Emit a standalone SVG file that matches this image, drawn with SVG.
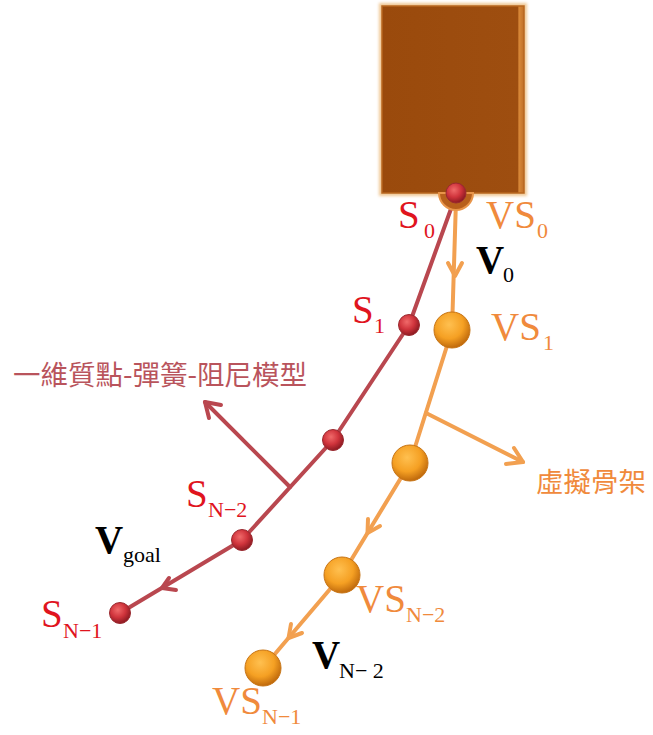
<svg xmlns="http://www.w3.org/2000/svg" width="653" height="735" viewBox="0 0 653 735">
<defs>
<radialGradient id="gRed" cx="0.4" cy="0.35" r="0.65">
<stop offset="0" stop-color="#F06A6A"/>
<stop offset="0.55" stop-color="#D0343C"/>
<stop offset="1" stop-color="#8E1A22"/>
</radialGradient>
<radialGradient id="gOr" cx="0.42" cy="0.35" r="0.65">
<stop offset="0" stop-color="#FFC050"/>
<stop offset="0.6" stop-color="#F5A023"/>
<stop offset="1" stop-color="#C06A0C"/>
</radialGradient>
<linearGradient id="gBox" x1="0" y1="0" x2="1" y2="0">
<stop offset="0" stop-color="#9A4A0C"/>
<stop offset="0.955" stop-color="#9E4E10"/>
<stop offset="0.965" stop-color="#D88838"/>
<stop offset="1" stop-color="#C06E26"/>
</linearGradient>
<filter id="glow" x="-10%" y="-10%" width="120%" height="120%">
<feGaussianBlur stdDeviation="1.5"/>
</filter>
</defs>
<style>
.rl{fill:none;stroke:#B9474F;stroke-width:4;stroke-linecap:round;stroke-linejoin:round}
.ol{fill:none;stroke:#F2A050;stroke-width:4;stroke-linecap:round;stroke-linejoin:round}
.rb{fill:url(#gRed);stroke:#9A2A30;stroke-width:1}
.ob{fill:url(#gOr);stroke:#C77415;stroke-width:1}
.t{font-family:"Liberation Serif","Times New Roman",serif}
.red{fill:#E0141E}
.org{fill:#F08A3C}
.blk{fill:#000}
.big{font-size:39px}
.sub{font-size:22px}
.cjk{font-family:"Noto Sans CJK TC","Noto Sans CJK SC",sans-serif;font-size:27.5px}
</style>
<g id="block">
<rect x="379" y="3" width="148" height="193" fill="#F0C894" filter="url(#glow)"/>
<rect x="382" y="6" width="142" height="187" fill="url(#gBox)" stroke="#B8671F" stroke-width="1.5"/>
</g>
<g id="connectors">
<path class="rl" d="M456,195 L409,325 L333,440 L242,540 L120,613"/>
<path class="rl" d="M290,487 L205,402"/>
<path class="rl" d="M209,418 L205,402 L221,405"/>
<path class="rl" d="M176,590 L162,588 L169,578"/>
<path class="ol" d="M456,200 L452,330 L410,463 L342,575 L263,668"/>
<path class="ol" d="M426,413 L523,462"/>
<path class="ol" d="M514,448 L523,462 L506,464"/>
<path class="ol" d="M448,263 L455,276 L462,263"/>
<path class="ol" d="M380,526 L367.5,533 L368,519"/>
<path class="ol" d="M302,633 L288.5,638 L291,624"/>
</g>
<g id="VS0">
<path d="M439,193 A17,17 0 0 0 473,193 Z" fill="#B8601C" stroke="#E8954A" stroke-width="2"/>
</g>
<g id="S0"><circle class="rb" cx="456" cy="193" r="10"/></g>
<g id="S1"><circle class="rb" cx="409" cy="325" r="10.5"/></g>
<g id="S2"><circle class="rb" cx="333" cy="440" r="10.5"/></g>
<g id="SN2"><circle class="rb" cx="242" cy="540" r="10.5"/></g>
<g id="SN1"><circle class="rb" cx="120" cy="613" r="10.5"/></g>
<g id="VS1"><circle class="ob" cx="452" cy="330" r="18"/></g>
<g id="VS2"><circle class="ob" cx="410" cy="463" r="18"/></g>
<g id="VSN2"><circle class="ob" cx="342" cy="575" r="18"/></g>
<g id="VSN1"><circle class="ob" cx="263" cy="668" r="18"/></g>
<g id="labels" class="t">
<text class="red big" x="398" y="228">S</text><text class="red sub" x="424" y="238">0</text>
<text class="org big" x="486" y="228">VS</text><text class="org sub" x="537" y="238">0</text>
<text class="blk big" font-weight="bold" x="476" y="273">V</text><text class="blk sub" font-size="18" x="503" y="282">0</text>
<text class="red big" x="352" y="323">S</text><text class="red sub" x="374" y="333">1</text>
<text class="org big" x="491" y="340">VS</text><text class="org sub" x="543" y="350">1</text>
<text class="red big" x="186" y="507">S</text><text class="red sub" x="208" y="517">N−2</text>
<text class="blk big" font-weight="bold" x="95" y="553">V</text><text class="blk sub" font-size="21" x="123" y="562">goal</text>
<text class="red big" x="41" y="627">S</text><text class="red sub" x="63" y="638">N−1</text>
<text class="org big" x="356" y="612">VS</text><text class="org sub" x="406" y="622">N−2</text>
<text class="blk big" font-weight="bold" x="312" y="668">V</text><text class="blk sub" x="339" y="678">N− 2</text>
<text class="org big" x="212" y="714">VS</text><text class="org sub" x="262" y="724">N−1</text>
<text class="cjk" x="13" y="385" fill="#B9545C">一維質點-彈簧-阻尼模型</text>
<text class="cjk" x="536" y="492" fill="#F08A3C">虛擬骨架</text>
</g>
</svg>
